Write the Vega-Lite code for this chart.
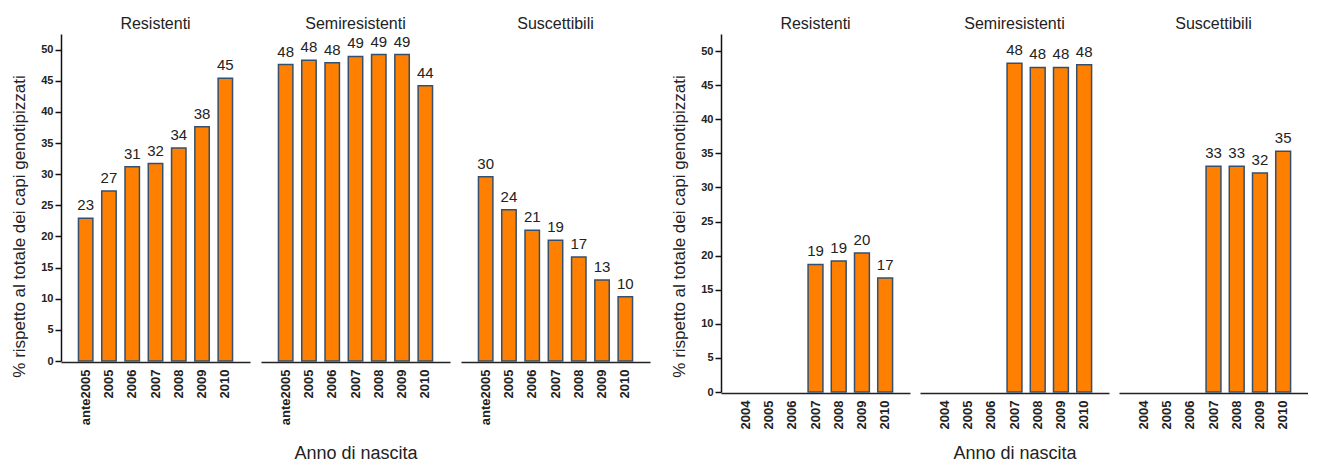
{
  "$schema": "https://vega.github.io/schema/vega-lite/v6.json",
  "padding": {"left": 10, "top": 16, "right": 0, "bottom": 0},
  "background": "white",
  "config": {
    "view": {"stroke": null},
    "font": "Liberation Sans",
    "axis": {"grid": false},
    "axisX": {"ticks": false, "labelAngle": -90, "labelAlign": "right", "labelBaseline": "middle", "labelFontSize": 13, "labelFontWeight": "bold", "labelColor": "#222", "labelPadding": 7, "domainColor": "#222", "domainWidth": 1.5, "title": null},
    "axisY": {"tickSize": 6, "tickWidth": 1.5, "tickColor": "#111", "domainColor": "#111", "domainWidth": 1.5, "labelFontSize": 11, "labelFontWeight": "bold", "labelColor": "#222", "labelPadding": 2, "titleFontSize": 17, "titleFontWeight": "normal", "titleColor": "#222", "titlePadding": 12, "titleY": 192, "values": [0, 5, 10, 15, 20, 25, 30, 35, 40, 45, 50]},
    "header": {"labelOrient": "top", "labelFontSize": 16, "labelColor": "#222", "labelPadding": 2, "titleOrient": "bottom", "titleFontSize": 18, "titleFontWeight": "normal", "titleColor": "#222", "titlePadding": 10}
  },
  "datasets": {
    "left": [
      {"gruppo": "Resistenti", "anno": "ante2005", "valore": 22.9},
      {"gruppo": "Resistenti", "anno": "2005", "valore": 27.3},
      {"gruppo": "Resistenti", "anno": "2006", "valore": 31.2},
      {"gruppo": "Resistenti", "anno": "2007", "valore": 31.7},
      {"gruppo": "Resistenti", "anno": "2008", "valore": 34.2},
      {"gruppo": "Resistenti", "anno": "2009", "valore": 37.6},
      {"gruppo": "Resistenti", "anno": "2010", "valore": 45.4},
      {"gruppo": "Semiresistenti", "anno": "ante2005", "valore": 47.6},
      {"gruppo": "Semiresistenti", "anno": "2005", "valore": 48.3},
      {"gruppo": "Semiresistenti", "anno": "2006", "valore": 47.9},
      {"gruppo": "Semiresistenti", "anno": "2007", "valore": 48.9},
      {"gruppo": "Semiresistenti", "anno": "2008", "valore": 49.2},
      {"gruppo": "Semiresistenti", "anno": "2009", "valore": 49.2},
      {"gruppo": "Semiresistenti", "anno": "2010", "valore": 44.2},
      {"gruppo": "Suscettibili", "anno": "ante2005", "valore": 29.6},
      {"gruppo": "Suscettibili", "anno": "2005", "valore": 24.3},
      {"gruppo": "Suscettibili", "anno": "2006", "valore": 21.0},
      {"gruppo": "Suscettibili", "anno": "2007", "valore": 19.4},
      {"gruppo": "Suscettibili", "anno": "2008", "valore": 16.7},
      {"gruppo": "Suscettibili", "anno": "2009", "valore": 13.0},
      {"gruppo": "Suscettibili", "anno": "2010", "valore": 10.3}
    ],
    "right": [
      {"gruppo": "Resistenti", "anno": "2007", "valore": 18.7},
      {"gruppo": "Resistenti", "anno": "2008", "valore": 19.2},
      {"gruppo": "Resistenti", "anno": "2009", "valore": 20.4},
      {"gruppo": "Resistenti", "anno": "2010", "valore": 16.7},
      {"gruppo": "Semiresistenti", "anno": "2007", "valore": 48.2},
      {"gruppo": "Semiresistenti", "anno": "2008", "valore": 47.6},
      {"gruppo": "Semiresistenti", "anno": "2009", "valore": 47.6},
      {"gruppo": "Semiresistenti", "anno": "2010", "valore": 48.0},
      {"gruppo": "Suscettibili", "anno": "2007", "valore": 33.1},
      {"gruppo": "Suscettibili", "anno": "2008", "valore": 33.1},
      {"gruppo": "Suscettibili", "anno": "2009", "valore": 32.1},
      {"gruppo": "Suscettibili", "anno": "2010", "valore": 35.3}
    ]
  },
  "hconcat": [
    {
      "data": {"name": "left"},
      "facet": {"column": {"field": "gruppo", "type": "nominal", "title": "Anno di nascita"}},
      "spacing": 11,
      "spec": {
        "width": 189,
        "height": 327,
        "encoding": {
          "x": {"field": "anno", "type": "nominal", "scale": {"domain": ["ante2005", "2005", "2006", "2007", "2008", "2009", "2010"], "paddingInner": 0.38, "paddingOuter": 0.75}},
          "y": {"field": "valore", "type": "quantitative", "scale": {"domain": [0, 52.5], "nice": false}, "title": "% rispetto al totale dei capi genotipizzati"}
        },
        "layer": [
          {"mark": {"type": "bar", "fill": "#FF8000", "stroke": "#34506e", "strokeWidth": 1.5}},
          {"mark": {"type": "text", "baseline": "alphabetic", "dy": -8, "fontSize": 15, "color": "#222"}, "encoding": {"text": {"field": "valore", "type": "quantitative", "format": ".0f"}}}
        ]
      }
    },
    {
      "data": {"name": "right"},
      "facet": {"column": {"field": "gruppo", "type": "nominal", "title": "Anno di nascita", "header": {"titlePadding": 6}}},
      "spacing": 10,
      "spec": {
        "width": 189,
        "height": 358,
        "encoding": {
          "x": {"field": "anno", "type": "nominal", "scale": {"domain": ["2004", "2005", "2006", "2007", "2008", "2009", "2010"], "paddingInner": 0.36, "paddingOuter": 0.75}},
          "y": {"field": "valore", "type": "quantitative", "scale": {"domain": [0, 52.5], "nice": false}, "title": "% rispetto al totale dei capi genotipizzati"}
        },
        "layer": [
          {"mark": {"type": "bar", "fill": "#FF8000", "stroke": "#34506e", "strokeWidth": 1.5}},
          {"mark": {"type": "text", "baseline": "alphabetic", "dy": -8, "fontSize": 15, "color": "#222"}, "encoding": {"text": {"field": "valore", "type": "quantitative", "format": ".0f"}}}
        ]
      }
    }
  ]
}
